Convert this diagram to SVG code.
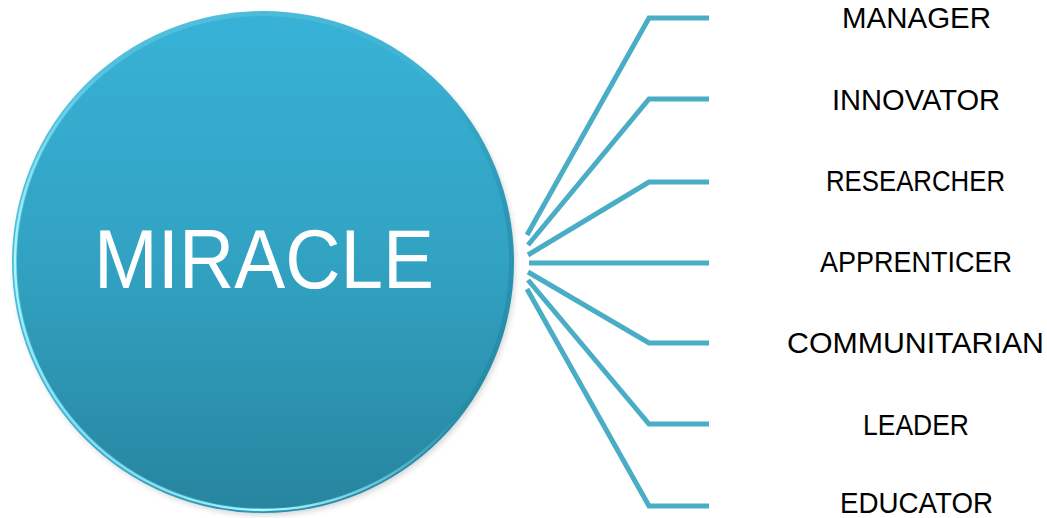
<svg xmlns="http://www.w3.org/2000/svg" width="1047" height="518" viewBox="0 0 1047 518">
  <defs>
    <linearGradient id="hubFill" x1="0" y1="0" x2="0" y2="1">
      <stop offset="0" stop-color="#37b2d6"/>
      <stop offset="0.5" stop-color="#32a2c2"/>
      <stop offset="1" stop-color="#27859f"/>
    </linearGradient>
    <linearGradient id="rimLight" x1="0" y1="0" x2="1" y2="1">
      <stop offset="0" stop-color="#5cc6e2"/>
      <stop offset="0.45" stop-color="#3fb3d3"/>
      <stop offset="0.7" stop-color="#2b97b5"/>
      <stop offset="1" stop-color="#1f7f99"/>
    </linearGradient>
    <linearGradient id="rimGlow" x1="1" y1="0" x2="0" y2="1">
      <stop offset="0" stop-color="#9af0ff" stop-opacity="0"/>
      <stop offset="0.45" stop-color="#9af0ff" stop-opacity="0"/>
      <stop offset="0.75" stop-color="#b0f6ff" stop-opacity="1"/>
      <stop offset="1" stop-color="#a8f4ff" stop-opacity="0.2"/>
    </linearGradient>
    <filter id="softShadow" x="-10%" y="-10%" width="120%" height="120%">
      <feGaussianBlur stdDeviation="3"/>
    </filter>
    <style>
      .spoke { fill: none; stroke: #4aadc6; stroke-width: 5; stroke-linejoin: miter; }
      .role { font-family: "Liberation Sans", Arial, sans-serif; font-size: 29px; fill: #000000; }
      .hub-label { font-family: "Liberation Sans", Arial, sans-serif; font-size: 84px; fill: #ffffff; }
    </style>
  </defs>

  <rect width="1047" height="518" fill="#ffffff"/>

  <!-- central circle -->
  <g id="node-miracle">
    <circle cx="265" cy="265" r="250" fill="#000000" opacity="0.18" filter="url(#softShadow)"/>
    <circle cx="263" cy="262" r="251" fill="url(#rimLight)"/>
    <circle cx="263" cy="262" r="246" fill="url(#hubFill)"/>
    <circle cx="263" cy="262" r="248" fill="none" stroke="url(#rimGlow)" stroke-width="2.5"/>
    <text class="hub-label" x="94" y="288" textLength="340" lengthAdjust="spacingAndGlyphs">MIRACLE</text>
  </g>

  <!-- spokes from the circle to each role -->
  <g id="connectors">
    <polyline class="spoke" points="527,235 649,18 709,18"/>
    <polyline class="spoke" points="528,245 649,99 709,99"/>
    <polyline class="spoke" points="528,255 649,182 709,182"/>
    <polyline class="spoke" points="529,263 709,263"/>
    <polyline class="spoke" points="528,272 649,343 709,343"/>
    <polyline class="spoke" points="528,280 649,424 709,424"/>
    <polyline class="spoke" points="527,289 649,506 709,506"/>
  </g>

  <g id="node-manager"><text class="role" x="842" y="28" textLength="149" lengthAdjust="spacingAndGlyphs">MANAGER</text></g>
  <g id="node-innovator"><text class="role" x="832" y="110" textLength="168" lengthAdjust="spacingAndGlyphs">INNOVATOR</text></g>
  <g id="node-researcher"><text class="role" x="826" y="191" textLength="179" lengthAdjust="spacingAndGlyphs">RESEARCHER</text></g>
  <g id="node-apprenticer"><text class="role" x="820" y="272" textLength="192" lengthAdjust="spacingAndGlyphs">APPRENTICER</text></g>
  <g id="node-communitarian"><text class="role" x="787" y="353" textLength="257" lengthAdjust="spacingAndGlyphs">COMMUNITARIAN</text></g>
  <g id="node-leader"><text class="role" x="863" y="435" textLength="106" lengthAdjust="spacingAndGlyphs">LEADER</text></g>
  <g id="node-educator"><text class="role" x="840" y="513" textLength="153" lengthAdjust="spacingAndGlyphs">EDUCATOR</text></g>
</svg>
